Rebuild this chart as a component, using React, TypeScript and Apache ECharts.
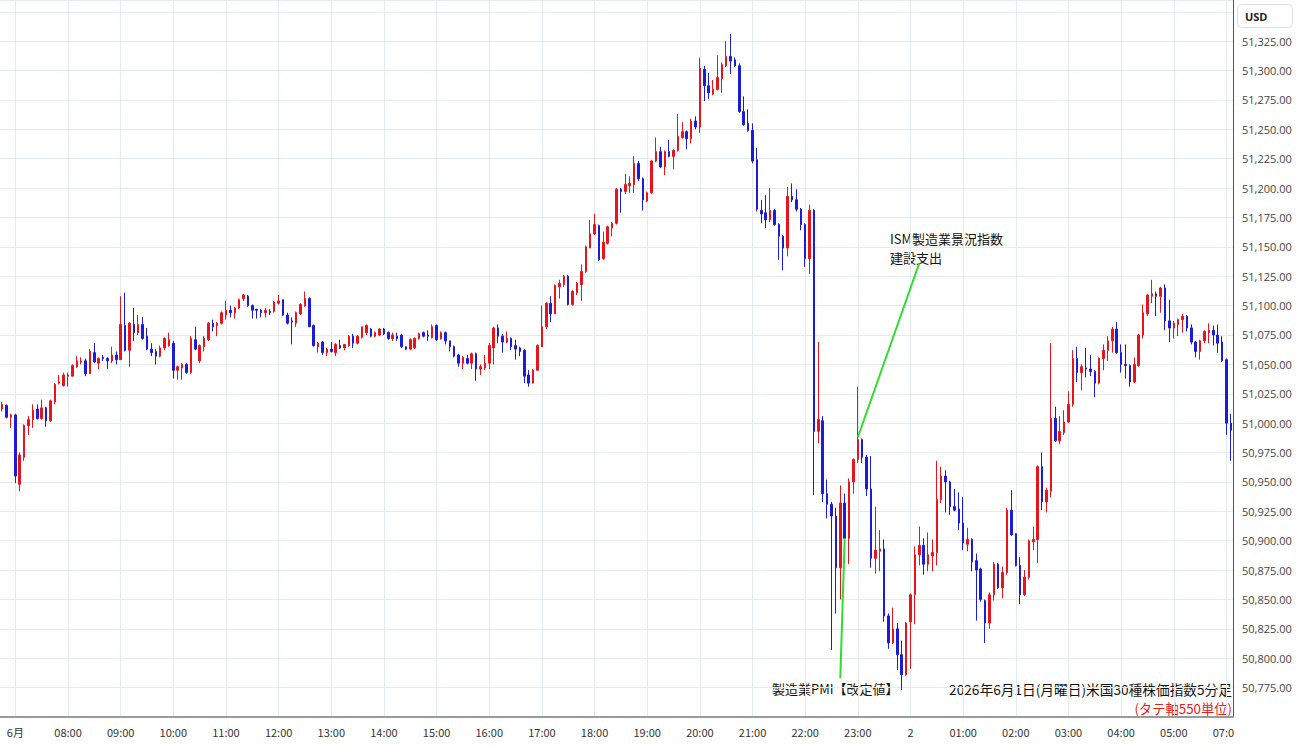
import React, { useEffect, useRef } from 'react';
import * as echarts from 'echarts';

// Each bar: [open, high, low, close]
const barsSat0545: number[][] = [
  [51012, 51018, 51010, 51016], [51015, 51016, 51004, 51005], [51005, 51008, 50996, 51007],
];
const bars0700: number[][] = [
  [51007, 51008, 50949, 50955], [50948, 50975, 50942, 50973], [50971, 50999, 50968, 50998],
  [50998, 51006, 50990, 51003], [51003, 51016, 50996, 51011], [51012, 51016, 51003, 51004],
  [51004, 51020, 51003, 51013], [51013, 51014, 50997, 51002], [51002, 51020, 51001, 51019],
  [51018, 51034, 51016, 51033], [51034, 51041, 51033, 51035], [51032, 51043, 51031, 51041],
  [51040, 51043, 51031, 51041], [51040, 51050, 51040, 51049], [51048, 51057, 51047, 51053],
  [51052, 51056, 51050, 51053], [51053, 51055, 51040, 51042], [51042, 51063, 51042, 51061],
  [51060, 51068, 51051, 51052], [51051, 51056, 51046, 51055], [51056, 51058, 51053, 51055],
  [51055, 51056, 51046, 51053], [51053, 51065, 51051, 51058], [51058, 51061, 51050, 51054],
  [51054, 51108, 51054, 51084], [51083, 51111, 51061, 51062], [51062, 51086, 51048, 51085],
  [51084, 51098, 51070, 51077], [51077, 51092, 51075, 51084], [51084, 51090, 51071, 51072],
  [51074, 51081, 51062, 51063], [51063, 51068, 51057, 51060], [51061, 51063, 51050, 51057],
  [51057, 51066, 51056, 51064], [51064, 51073, 51062, 51072], [51066, 51077, 51065, 51071],
];
const bars1000: number[][] = [
  [51068, 51070, 51038, 51045], [51045, 51049, 51037, 51048], [51047, 51051, 51037, 51050],
  [51050, 51051, 51042, 51043], [51043, 51074, 51042, 51072], [51071, 51082, 51062, 51063],
  [51053, 51067, 51051, 51066], [51065, 51074, 51061, 51072], [51071, 51086, 51070, 51085],
  [51085, 51088, 51078, 51082], [51083, 51086, 51074, 51085], [51085, 51095, 51084, 51094],
  [51092, 51104, 51088, 51096], [51096, 51100, 51090, 51094], [51094, 51099, 51089, 51098],
  [51098, 51106, 51097, 51105], [51106, 51110, 51104, 51109], [51108, 51109, 51099, 51100],
  [51100, 51101, 51089, 51096], [51097, 51097, 51089, 51096], [51096, 51097, 51090, 51094],
  [51094, 51098, 51090, 51096], [51095, 51097, 51092, 51094], [51095, 51104, 51094, 51103],
  [51102, 51109, 51101, 51104], [51105, 51105, 51091, 51092], [51092, 51094, 51084, 51085],
  [51087, 51090, 51067, 51086], [51085, 51095, 51082, 51094], [51093, 51102, 51092, 51101],
  [51100, 51112, 51099, 51106], [51106, 51107, 51082, 51082], [51083, 51084, 51065, 51066],
  [51065, 51069, 51060, 51068], [51069, 51070, 51058, 51060], [51060, 51064, 51057, 51063],
];
const bars1300: number[][] = [
  [51063, 51069, 51060, 51061], [51060, 51068, 51057, 51067], [51066, 51071, 51063, 51064],
  [51064, 51067, 51062, 51067], [51066, 51075, 51065, 51074], [51074, 51076, 51064, 51068],
  [51068, 51075, 51067, 51074], [51073, 51082, 51072, 51082], [51077, 51084, 51075, 51083],
  [51080, 51081, 51073, 51074], [51074, 51078, 51073, 51077], [51075, 51081, 51074, 51080],
  [51080, 51081, 51075, 51076], [51077, 51078, 51071, 51072], [51072, 51077, 51070, 51075],
  [51074, 51077, 51070, 51072], [51075, 51076, 51064, 51065], [51065, 51065, 51062, 51063],
  [51063, 51072, 51062, 51071], [51064, 51073, 51063, 51072], [51072, 51077, 51071, 51076],
  [51077, 51078, 51073, 51074], [51075, 51079, 51070, 51074], [51073, 51084, 51072, 51082],
  [51083, 51084, 51070, 51071], [51072, 51078, 51071, 51077], [51077, 51078, 51067, 51070],
  [51070, 51070, 51061, 51065], [51065, 51066, 51056, 51057], [51058, 51059, 51048, 51051],
  [51051, 51057, 51046, 51056], [51055, 51058, 51050, 51051], [51051, 51060, 51046, 51059],
  [51059, 51060, 51036, 51046], [51046, 51050, 51041, 51048], [51047, 51058, 51045, 51051],
];
const bars1600: number[][] = [
  [51051, 51068, 51046, 51066], [51064, 51082, 51050, 51081], [51081, 51084, 51068, 51074],
  [51074, 51076, 51060, 51069], [51069, 51078, 51068, 51072], [51072, 51073, 51062, 51065],
  [51066, 51071, 51054, 51063], [51064, 51065, 51057, 51061], [51062, 51063, 51034, 51040],
  [51041, 51045, 51031, 51034], [51034, 51046, 51034, 51045], [51045, 51067, 51045, 51066],
  [51065, 51100, 51065, 51082], [51082, 51103, 51080, 51102], [51102, 51108, 51086, 51093],
  [51093, 51118, 51093, 51117], [51116, 51122, 51106, 51119], [51118, 51126, 51116, 51125],
  [51125, 51126, 51100, 51101], [51101, 51113, 51100, 51112], [51111, 51120, 51109, 51119],
  [51118, 51135, 51104, 51129], [51129, 51151, 51128, 51150], [51149, 51173, 51149, 51161],
  [51161, 51178, 51160, 51169], [51168, 51169, 51138, 51139], [51140, 51163, 51139, 51154],
  [51153, 51168, 51152, 51167], [51166, 51171, 51159, 51170], [51170, 51200, 51169, 51199],
  [51199, 51200, 51179, 51197], [51197, 51212, 51195, 51203], [51202, 51210, 51196, 51204],
  [51203, 51227, 51196, 51221], [51221, 51223, 51206, 51208], [51208, 51209, 51181, 51190],
];
const bars1900: number[][] = [
  [51189, 51197, 51188, 51196], [51196, 51224, 51195, 51223], [51223, 51243, 51222, 51231],
  [51231, 51235, 51217, 51218], [51218, 51232, 51211, 51231], [51231, 51241, 51226, 51227],
  [51227, 51233, 51216, 51232], [51232, 51263, 51231, 51244], [51243, 51256, 51242, 51248],
  [51248, 51249, 51233, 51242], [51242, 51259, 51238, 51257], [51257, 51261, 51250, 51252],
  [51252, 51311, 51247, 51302], [51301, 51304, 51274, 51287], [51287, 51298, 51276, 51281],
  [51280, 51292, 51279, 51284], [51284, 51313, 51283, 51294], [51293, 51307, 51281, 51305],
  [51304, 51325, 51303, 51312], [51312, 51331, 51297, 51308], [51309, 51311, 51303, 51304],
  [51304, 51306, 51264, 51265], [51265, 51278, 51253, 51254], [51255, 51267, 51248, 51249],
  [51249, 51255, 51221, 51223], [51224, 51234, 51180, 51182], [51181, 51190, 51170, 51178],
  [51179, 51194, 51166, 51173], [51173, 51200, 51171, 51181], [51181, 51182, 51168, 51169],
  [51169, 51170, 51139, 51159], [51159, 51160, 51130, 51149], [51149, 51201, 51142, 51193],
  [51193, 51204, 51188, 51190], [51190, 51199, 51180, 51182], [51182, 51183, 51164, 51169],
];
const bars2200: number[][] = [
  [51169, 51170, 51133, 51140], [51140, 51186, 51127, 51181], [51181, 51182, 50939, 50993],
  [50993, 51069, 50983, 51003], [51002, 51006, 50933, 50940], [50940, 50952, 50919, 50931],
  [50931, 50933, 50807, 50921], [50921, 50928, 50838, 50877], [50877, 50947, 50850, 50932],
  [50932, 50940, 50881, 50902], [50902, 50953, 50880, 50950], [50950, 50970, 50940, 50969],
  [50969, 51031, 50966, 50986], [50986, 50987, 50966, 50971], [50971, 50973, 50938, 50944],
  [50944, 50972, 50877, 50885], [50885, 50929, 50872, 50892], [50891, 50909, 50874, 50893],
  [50893, 50901, 50831, 50836], [50836, 50838, 50808, 50813], [50813, 50843, 50812, 50825],
  [50825, 50830, 50790, 50803], [50803, 50815, 50773, 50786], [50786, 50831, 50785, 50830],
  [50831, 50855, 50791, 50854], [50854, 50895, 50829, 50888], [50888, 50912, 50879, 50896],
  [50896, 50902, 50871, 50880], [50880, 50907, 50874, 50888], [50887, 50901, 50874, 50890],
  [50890, 50968, 50879, 50935], [50935, 50963, 50932, 50955], [50955, 50960, 50924, 50950],
  [50950, 50951, 50922, 50929], [50929, 50944, 50925, 50926], [50927, 50941, 50909, 50915],
];
const bars0100: number[][] = [
  [50915, 50937, 50892, 50898], [50897, 50911, 50891, 50901], [50901, 50902, 50874, 50882],
  [50883, 50889, 50832, 50875], [50876, 50877, 50848, 50850], [50849, 50850, 50813, 50830],
  [50830, 50856, 50825, 50854], [50854, 50882, 50849, 50880], [50880, 50881, 50859, 50860],
  [50860, 50878, 50851, 50873], [50873, 50928, 50871, 50926], [50926, 50943, 50904, 50905],
  [50906, 50906, 50878, 50879], [50879, 50886, 50846, 50854], [50854, 50875, 50853, 50869],
  [50869, 50901, 50867, 50900], [50899, 50912, 50892, 50901], [50901, 50964, 50881, 50963],
  [50963, 50975, 50926, 50933], [50933, 50945, 50924, 50943], [50942, 51068, 50937, 51004],
  [51004, 51014, 50984, 50985], [50985, 51006, 50982, 50993], [50992, 51011, 50990, 51001],
  [51001, 51027, 51000, 51016], [51016, 51062, 51014, 51055], [51055, 51065, 51035, 51043],
  [51043, 51050, 51028, 51048], [51047, 51064, 51039, 51046], [51046, 51058, 51040, 51044],
  [51044, 51045, 51022, 51034], [51034, 51056, 51033, 51055], [51055, 51067, 51045, 51062],
  [51062, 51074, 51053, 51070], [51070, 51082, 51060, 51080], [51080, 51086, 51059, 51060],
];
const bars0400: number[][] = [
  [51060, 51067, 51043, 51050], [51050, 51067, 51038, 51049], [51049, 51050, 51031, 51035],
  [51035, 51056, 51034, 51050], [51049, 51076, 51048, 51075], [51075, 51101, 51072, 51094],
  [51093, 51110, 51091, 51109], [51108, 51122, 51102, 51110], [51110, 51112, 51091, 51108],
  [51108, 51116, 51094, 51115], [51115, 51118, 51079, 51087], [51087, 51105, 51069, 51081],
  [51081, 51087, 51072, 51085], [51084, 51089, 51074, 51088], [51088, 51093, 51077, 51091],
  [51091, 51092, 51078, 51081], [51081, 51084, 51067, 51069], [51069, 51070, 51056, 51061],
  [51061, 51071, 51054, 51070], [51070, 51079, 51068, 51078], [51077, 51085, 51068, 51079],
  [51079, 51083, 51066, 51075], [51075, 51084, 51060, 51068], [51069, 51074, 51052, 51053],
];
const barsJun2_0700: number[][] = [
  [51054, 51055, 50990, 51000], [51000, 51008, 50968, 50994],
];

// Category labels (5-minute bars)
const pad = (n: number) => String(n).padStart(2, '0');
const preTimes = ['2026-05-30 05:45', '2026-05-30 05:50', '2026-05-30 05:55'];
const mainTimes: string[] = [];
for (let k = 0; k < 276; k++) {
  const total = 7 * 60 + k * 5;
  const day = total >= 24 * 60 ? '02' : '01';
  const m = total % (24 * 60);
  mainTimes.push(`2026-06-${day} ${pad(Math.floor(m / 60))}:${pad(m % 60)}`);
}
const postTimes = ['2026-06-02 07:00', '2026-06-02 07:05'];
const categories = [...preTimes, ...mainTimes, ...postTimes];

const bars = [
  ...barsSat0545, ...bars0700, ...bars1000, ...bars1300, ...bars1600,
  ...bars1900, ...bars2200, ...bars0100, ...bars0400, ...barsJun2_0700,
];

const yMin = 50750;
const yMax = 51360;
const yLabelMin = 50775;
const yLabelMax = 51325;

// annotation leader lines: [categoryIndex, price]
const pmiLine = [[191, 50783], [192, 50902]];
const ismLine = [[195, 50988], [209, 51136]];

const titleText = '2026年6月1日(月曜日)米国30種株価指数5分足';
const subText = '(タテ軸550単位)';
const pmiText = '製造業PMI【改定値】';
const ismLine1 = 'ISM製造業景況指数';
const ismLine2 = '建設支出';

const UP = '#e8141c';
const DOWN = '#1c1cd8';
const GRID = '#e4eaf1';
const JP = '"Noto Sans CJK JP", "Noto Sans", sans-serif';
const LAT = '"Open Sans", "Noto Sans", sans-serif';

const isHour = (v: string) => v.endsWith(':00');
const fmtX = (v: string) => {
  if (v === '2026-06-01 07:00') return '6月';
  if (v === '2026-06-02 00:00') return '2';
  return v.slice(11);
};

export default function App() {
  const ref = useRef<HTMLDivElement>(null);
  useEffect(() => {
    const chart = echarts.init(ref.current!, null, { renderer: 'svg' });
    chart.setOption({
      animation: false,
      backgroundColor: '#ffffff',
      grid: { left: -1, right: 67, top: 0, bottom: 28, containLabel: false },
      xAxis: {
        type: 'category',
        data: categories,
        boundaryGap: true,
        axisLine: { show: true, lineStyle: { color: '#9a9a9a', width: 2 } },
        axisTick: { show: false, alignWithLabel: true },
        axisLabel: {
          interval: (_i: number, v: string) => isHour(v),
          formatter: fmtX,
          color: '#333',
          fontSize: 11,
          fontFamily: JP,
          margin: 9,
        },
        splitLine: {
          show: true,
          interval: (_i: number, v: string) => isHour(v),
          alignWithLabel: true,
          lineStyle: { color: GRID, width: 1 },
        },
      },
      yAxis: {
        type: 'value',
        position: 'right',
        min: yMin,
        max: yMax,
        interval: 25,
        scale: true,
        axisLine: { show: true, lineStyle: { color: '#555', width: 1 } },
        axisTick: { show: false },
        axisLabel: {
          color: '#444',
          fontSize: 11,
          fontFamily: LAT,
          margin: 9,
          formatter: (v: number) =>
            v % 25 === 0 && v >= yLabelMin && v <= yLabelMax
              ? v.toLocaleString('en-US', { minimumFractionDigits: 2, maximumFractionDigits: 2 })
              : '',
        },
        splitLine: { show: true, lineStyle: { color: GRID, width: 1 } },
      },
      series: [
        {
          type: 'candlestick',
          data: bars.map((b) => [b[0], b[3], b[2], b[1]]),
          barWidth: 2,
          itemStyle: {
            color: UP,
            color0: DOWN,
            borderColor: UP,
            borderColor0: DOWN,
            borderWidth: 1,
          },
          markLine: {
            silent: true,
            symbol: ['none', 'none'],
            label: { show: false },
            lineStyle: { color: '#2fdc2f', width: 2, type: 'solid' },
            emphasis: { disabled: true },
            data: [
              [{ coord: pmiLine[0] }, { coord: pmiLine[1] }],
              [{ coord: ismLine[0] }, { coord: ismLine[1] }],
            ],
          },
        },
      ],
      graphic: [
        {
          type: 'rect',
          z: 100,
          shape: { x: 1234, y: 718, width: 66, height: 27 },
          style: { fill: '#ffffff' },
        },
        {
          type: 'rect',
          z: 100,
          shape: { x: 1237.5, y: 4.5, width: 55, height: 23, r: 4 },
          style: { fill: '#ffffff', stroke: '#dddddd', lineWidth: 1 },
        },
        {
          type: 'text',
          z: 101,
          x: 1245,
          y: 16,
          style: { text: 'USD', fontSize: 11, fontWeight: 'bold', fill: '#222', verticalAlign: 'middle', fontFamily: LAT },
        },
        {
          type: 'text',
          x: 890,
          y: 238.5,
          style: { text: ismLine1, fontSize: 13, fill: '#111', verticalAlign: 'middle', fontFamily: JP },
        },
        {
          type: 'text',
          x: 890,
          y: 257.5,
          style: { text: ismLine2, fontSize: 13, fill: '#111', verticalAlign: 'middle', fontFamily: JP },
        },
        {
          type: 'text',
          x: 772,
          y: 688,
          style: { text: pmiText, fontSize: 13, fill: '#111', verticalAlign: 'middle', fontFamily: JP },
        },
        {
          type: 'text',
          x: 1232,
          y: 688.5,
          style: { text: titleText, fontSize: 13.7, fill: '#111', align: 'right', verticalAlign: 'middle', fontFamily: JP },
        },
        {
          type: 'text',
          x: 1232,
          y: 708,
          style: { text: subText, fontSize: 13.3, fill: '#e8201c', align: 'right', verticalAlign: 'middle', fontFamily: JP },
        },
      ],
    });
    return () => chart.dispose();
  }, []);
  return (
    <div
      ref={ref}
      style={{ position: 'absolute', left: 0, top: 0, width: 1300, height: 745, background: '#fff' }}
    />
  );
}
